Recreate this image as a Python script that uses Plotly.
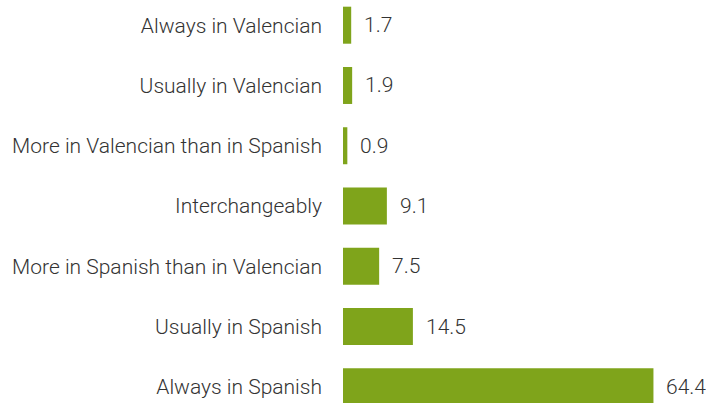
import plotly.graph_objects as go

categories = [
    "Always in Valencian",
    "Usually in Valencian",
    "More in Valencian than in Spanish",
    "Interchangeably",
    "More in Spanish than in Valencian",
    "Usually in Spanish",
    "Always in Spanish",
]
values = [1.7, 1.9, 0.9, 9.1, 7.5, 14.5, 64.4]
value_labels = ["1.7", "1.9", "0.9", "9.1", "7.5", "14.5", "64.4"]

BAR_COLOR = "#7FA41B"
TEXT_COLOR = "#333333"
FONT = "Roboto"

fig = go.Figure(
    go.Bar(
        x=values,
        y=categories,
        orientation="h",
        marker=dict(color=BAR_COLOR, line=dict(width=0)),
        hoverinfo="skip",
    )
)

for cat, val, lab in zip(categories, values, value_labels):
    fig.add_annotation(
        x=val, y=cat, text=lab, showarrow=False,
        xanchor="left", yanchor="middle", xshift=11,
        font=dict(family=FONT, size=21, color=TEXT_COLOR, weight=300),
    )

fig.update_layout(
    width=706, height=403,
    margin=dict(l=343, r=0, t=0, b=0),
    paper_bgcolor="white", plot_bgcolor="white",
    bargap=0.386,
    showlegend=False,
    xaxis=dict(range=[0, 75.3], visible=False, fixedrange=True),
    yaxis=dict(
        type="category",
        range=[6.268, -0.418],
        showgrid=False, zeroline=False, showline=False,
        ticks="", ticklabelstandoff=20,
        tickfont=dict(family=FONT, size=21, color=TEXT_COLOR, weight=300),
        automargin=False,
    ),
)

fig.write_html(
    "out.html",
    config={"displayModeBar": False},
    post_script="document.body.style.margin='0';document.body.style.padding='0';document.body.style.overflow='hidden';",
)
